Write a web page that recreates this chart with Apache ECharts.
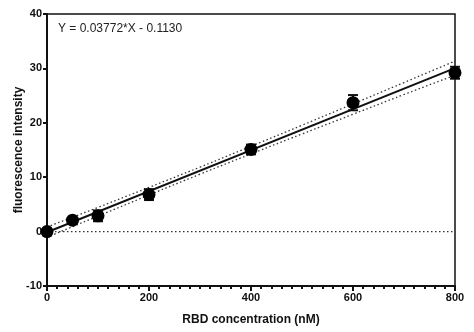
<!DOCTYPE html>
<html>
<head>
<meta charset="utf-8">
<script src="https://cdn.jsdelivr.net/npm/echarts@6/dist/echarts.min.js"></script>
<style>
  html, body { margin: 0; padding: 0; background: #fff; }
  #chart { width: 474px; height: 332px; }
</style>
</head>
<body>
<div id="chart"></div>
<script>
// measured points (RBD nM vs fluorescence)
const conc = [0, 50, 100, 200, 400, 600, 800]
const meanVal = [0, 2.1, 2.9, 6.8, 15.1, 23.7, 29.2]
const errVal = [0, 0.3, 1.0, 1.0, 0.9, 1.4, 1.1]

// fit line Y = 0.03772*X - 0.1130
const fitX = [0, 800]
const fitY = [-0.113, 30.063]

// 95% band
const bandX = [0, 100, 200, 300, 400, 500, 600, 700, 800]
const bandUpper = [0.85, 4.45, 8.13, 11.85, 15.68, 19.55, 23.47, 27.4, 31.35]
const bandLower = [-1.05, 2.85, 6.73, 10.55, 14.28, 17.95, 21.57, 25.2, 28.75]

const font = 'Liberation Sans, Arial, sans-serif'

const zip = (a, b) => a.map((v, i) => [v, b[i]])

const chart = echarts.init(document.getElementById('chart'))
chart.setOption({
  animation: false,
  title: {
    text: 'Y = 0.03772*X - 0.1130',
    left: 53,
    top: 18,
    textStyle: { fontFamily: font, fontSize: 12, fontWeight: 'normal', color: '#222' }
  },
  grid: {
    left: 47,
    right: 19,
    top: 14,
    bottom: 46,
    outerBoundsMode: 'none',
    containLabel: false,
    show: true,
    borderColor: '#111',
    borderWidth: 1.5
  },
  xAxis: {
    type: 'value',
    min: 0,
    max: 800,
    interval: 200,
    name: 'RBD concentration (nM)',
    nameLocation: 'middle',
    nameGap: 28,
    nameMoveOverlap: false,
    nameTextStyle: { fontFamily: font, fontSize: 12, fontWeight: 'bold', color: '#111' },
    axisLine: { onZero: false, lineStyle: { color: '#111', width: 2 } },
    axisTick: { length: 5, lineStyle: { color: '#111', width: 2 } },
    minorTick: { show: true, splitNumber: 10, length: 3, lineStyle: { color: '#111', width: 2 } },
    axisLabel: { fontFamily: font, fontSize: 11, fontWeight: 'bold', color: '#111', margin: 6 },
    splitLine: { show: false }
  },
  yAxis: {
    type: 'value',
    min: -10,
    max: 40,
    interval: 10,
    name: 'fluorescence intensity',
    nameLocation: 'middle',
    nameGap: 22,
    nameMoveOverlap: false,
    nameTextStyle: { fontFamily: font, fontSize: 12, fontWeight: 'bold', color: '#111' },
    axisLine: { onZero: false, lineStyle: { color: '#111', width: 2 } },
    axisTick: { length: 4, lineStyle: { color: '#111', width: 2 } },
    axisLabel: { fontFamily: font, fontSize: 11, fontWeight: 'bold', color: '#111', margin: 5 },
    splitLine: { show: false }
  },
  series: [
    {
      type: 'line',
      data: [[0, 0], [800, 0]],
      symbol: 'none',
      lineStyle: { color: '#333', width: 1.3, type: [1.5, 2.5] },
      z: 1
    },
    {
      type: 'line',
      data: zip(bandX, bandUpper),
      symbol: 'none',
      smooth: true,
      lineStyle: { color: '#333', width: 1.3, type: [1.5, 2.5] },
      z: 2
    },
    {
      type: 'line',
      data: zip(bandX, bandLower),
      symbol: 'none',
      smooth: true,
      lineStyle: { color: '#333', width: 1.3, type: [1.5, 2.5] },
      z: 2
    },
    {
      type: 'line',
      data: zip(fitX, fitY),
      symbol: 'none',
      lineStyle: { color: '#111', width: 2 },
      z: 3
    },
    {
      type: 'custom',
      data: conc.map((x, i) => [x, meanVal[i] - errVal[i], meanVal[i] + errVal[i]]),
      renderItem: function(params, api) {
        const lo = api.coord([api.value(0), api.value(1)])
        const hi = api.coord([api.value(0), api.value(2)])
        const w = 5
        const style = { stroke: '#111', lineWidth: 2 }
        return {
          type: 'group',
          children: [
            { type: 'line', shape: { x1: lo[0], y1: lo[1], x2: hi[0], y2: hi[1] }, style },
            { type: 'line', shape: { x1: hi[0] - w, y1: hi[1], x2: hi[0] + w, y2: hi[1] }, style },
            { type: 'line', shape: { x1: lo[0] - w, y1: lo[1], x2: lo[0] + w, y2: lo[1] }, style }
          ]
        }
      },
      clip: false,
      z: 4
    },
    {
      type: 'scatter',
      data: zip(conc, meanVal),
      symbol: 'circle',
      symbolSize: 13,
      itemStyle: { color: '#000', opacity: 1 },
      clip: false,
      z: 5
    }
  ]
})
window.addEventListener('resize', function() {
  chart.resize()
})
</script>
</body>
</html>
